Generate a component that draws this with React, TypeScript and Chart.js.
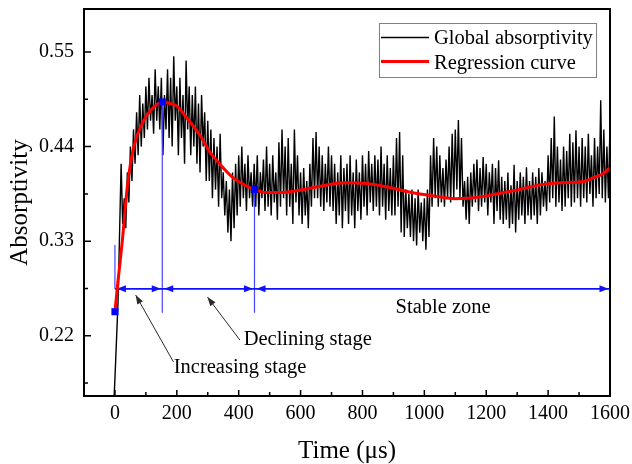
import React, { useEffect, useRef } from 'react';
import { Chart, registerables } from 'chart.js';

Chart.register(...registerables);

// ---------------- data ----------------
const sampleStart = -5; // μs, time of first sample
const sampleStep = 5; // μs between samples
const absorptivity = [
  0.13,
  0.17, 0.215, 0.26, 0.34, 0.42, 0.35, 0.38, 0.345, 0.41, 0.375,
  0.44, 0.40, 0.46, 0.42, 0.48, 0.43, 0.50, 0.44, 0.49, 0.45,
  0.51, 0.46, 0.52, 0.47, 0.50, 0.455, 0.53, 0.47, 0.51, 0.46,
  0.52, 0.43, 0.50, 0.46, 0.53, 0.45, 0.52, 0.44, 0.545, 0.47,
  0.51, 0.43, 0.52, 0.45, 0.50, 0.42, 0.54, 0.46, 0.51, 0.43,
  0.50, 0.44, 0.51, 0.42, 0.49, 0.41, 0.50, 0.44, 0.48, 0.40,
  0.47, 0.40, 0.46, 0.38, 0.45, 0.39, 0.44, 0.37, 0.455, 0.38,
  0.41, 0.36, 0.40, 0.34, 0.39, 0.33, 0.41, 0.345, 0.42, 0.36,
  0.43, 0.37, 0.44, 0.38, 0.42, 0.365, 0.43, 0.38, 0.41, 0.37,
  0.42, 0.37, 0.43, 0.36, 0.41, 0.38, 0.425, 0.365, 0.44, 0.37,
  0.42, 0.36, 0.43, 0.375, 0.41, 0.355, 0.445, 0.37, 0.46, 0.38,
  0.44, 0.36, 0.45, 0.37, 0.42, 0.35, 0.46, 0.375, 0.43, 0.36,
  0.41, 0.35, 0.415, 0.36, 0.40, 0.345, 0.42, 0.37, 0.45, 0.38,
  0.457, 0.38, 0.44, 0.37, 0.43, 0.365, 0.42, 0.375, 0.44, 0.37,
  0.43, 0.365, 0.42, 0.35, 0.41, 0.36, 0.43, 0.345, 0.415, 0.365,
  0.42, 0.35, 0.43, 0.36, 0.41, 0.345, 0.425, 0.365, 0.41, 0.355,
  0.43, 0.37, 0.42, 0.36, 0.435, 0.375, 0.42, 0.365, 0.43, 0.37,
  0.425, 0.36, 0.44, 0.37, 0.42, 0.355, 0.43, 0.365, 0.415, 0.36,
  0.43, 0.36, 0.45, 0.37, 0.457, 0.34, 0.43, 0.335, 0.39, 0.345,
  0.385, 0.335, 0.39, 0.33, 0.38, 0.325, 0.39, 0.34, 0.375, 0.33,
  0.38, 0.32, 0.39, 0.335, 0.43, 0.37, 0.45, 0.38, 0.44, 0.37,
  0.43, 0.375, 0.415, 0.37, 0.425, 0.38, 0.44, 0.375, 0.455, 0.38,
  0.46, 0.39, 0.471, 0.38, 0.45, 0.37, 0.40, 0.355, 0.405, 0.35,
  0.41, 0.37, 0.42, 0.375, 0.425, 0.365, 0.415, 0.37, 0.428, 0.375,
  0.42, 0.36, 0.41, 0.375, 0.42, 0.35, 0.415, 0.365, 0.424, 0.355,
  0.405, 0.35, 0.40, 0.355, 0.41, 0.345, 0.395, 0.35, 0.419, 0.34,
  0.40, 0.355, 0.41, 0.36, 0.405, 0.35, 0.416, 0.36, 0.40, 0.355,
  0.41, 0.36, 0.405, 0.35, 0.415, 0.36, 0.41, 0.37, 0.40, 0.365,
  0.43, 0.375, 0.45, 0.38, 0.475, 0.37, 0.44, 0.375, 0.425, 0.365,
  0.44, 0.37, 0.435, 0.38, 0.455, 0.37, 0.445, 0.375, 0.459, 0.38,
  0.44, 0.37, 0.45, 0.38, 0.44, 0.375, 0.455, 0.385, 0.43, 0.37,
  0.45, 0.38, 0.44, 0.385, 0.494, 0.38, 0.46, 0.375, 0.44, 0.38,
  0.467,
];

const regressionTime = [0, 10, 24, 40, 61, 94, 120, 153, 180, 201, 235, 277, 310, 341, 375, 406, 451, 492, 535, 600, 664, 740, 815, 880, 955, 1050, 1095, 1140, 1205, 1280, 1375, 1440, 1515, 1545, 1580, 1600];
const regressionValue = [0.248, 0.284, 0.331, 0.3935, 0.44, 0.471, 0.484, 0.492, 0.49, 0.4867, 0.472, 0.452, 0.432, 0.419, 0.406, 0.398, 0.39, 0.3866, 0.3866, 0.3895, 0.394, 0.398, 0.397, 0.393, 0.387, 0.3816, 0.3795, 0.38, 0.383, 0.388, 0.3955, 0.398, 0.3995, 0.4036, 0.409, 0.416];

// stage boundaries (μs) and the marked points on the regression curve
const stageTime = [0, 153, 451];
const stageValue = [0.248, 0.492, 0.39];
const stageEnd = 1600;
const arrowLevel = 0.2746;
const firstMarkTop = 0.3256;
const markBottom = 0.2468;

const xTicks = [0, 200, 400, 600, 800, 1000, 1200, 1400, 1600];
const xMinorTicks = [100, 300, 500, 700, 900, 1100, 1300, 1500];
const yTicks = [0.22, 0.33, 0.44, 0.55];
const yMinorTicks = [0.165, 0.275, 0.385, 0.495];

const stageLabels = [
  { text: 'Increasing stage', x: 190, y: 0.177 },
  { text: 'Declining stage', x: 416, y: 0.209 },
  { text: 'Stable zone', x: 907, y: 0.2468 },
];
const pointerArrows = [
  { fromX: 189, fromY: 0.1897, toX: 67, toY: 0.2674 },
  { fromX: 404, fromY: 0.215, toX: 299, toY: 0.265 },
];

const seriesNames = ['Global absorptivity', 'Regression curve'];

// ---------------- drawing helpers ----------------
const FONT = '"Liberation Serif", "Times New Roman", serif';

function arrowHead(ctx: CanvasRenderingContext2D, tx: number, ty: number, dx: number, dy: number, len: number, half: number) {
  const n = Math.hypot(dx, dy);
  const ux = dx / n, uy = dy / n;
  const bx = tx - ux * len, by = ty - uy * len;
  ctx.beginPath();
  ctx.moveTo(tx, ty);
  ctx.lineTo(bx - uy * half, by + ux * half);
  ctx.lineTo(bx + uy * half, by - ux * half);
  ctx.closePath();
  ctx.fill();
}

const stagePlugin = {
  id: 'stageMarks',
  afterDatasetDraw(chart: any, args: any) {
    if (args.meta.order !== 3) return;
    const ctx = chart.ctx as CanvasRenderingContext2D;
    const xs = chart.scales.x, ys = chart.scales.y;
    const X = (v: number) => xs.getPixelForValue(v);
    const Y = (v: number) => ys.getPixelForValue(v);
    ctx.save();
    // verticals
    ctx.strokeStyle = '#4545ff';
    ctx.lineWidth = 1.2;
    stageTime.forEach((t, i) => {
      const top = i === 0 ? firstMarkTop : stageValue[i];
      const bottom = i === 0 ? arrowLevel : markBottom;
      ctx.beginPath();
      ctx.moveTo(X(t), Y(top));
      ctx.lineTo(X(t), Y(bottom));
      ctx.stroke();
    });
    // horizontal double arrows
    ctx.strokeStyle = '#1010ff';
    ctx.fillStyle = '#1010ff';
    ctx.lineWidth = 1.6;
    const yl = Y(arrowLevel);
    ctx.beginPath();
    ctx.moveTo(X(stageTime[0]), yl);
    ctx.lineTo(X(stageEnd), yl);
    ctx.stroke();
    const bounds = [...stageTime, stageEnd];
    for (let i = 0; i < bounds.length - 1; i++) {
      const a = X(bounds[i]), b = X(bounds[i + 1]);
      arrowHead(ctx, a + 2, yl, -1, 0, 9, 3.5);
      arrowHead(ctx, b - 1.5, yl, 1, 0, 9, 3.5);
    }
    ctx.restore();
  },
  afterDraw(chart: any) {
    const ctx = chart.ctx as CanvasRenderingContext2D;
    const xs = chart.scales.x, ys = chart.scales.y;
    const X = (v: number) => xs.getPixelForValue(v);
    const Y = (v: number) => ys.getPixelForValue(v);
    const { left, right, top, bottom } = chart.chartArea;
    ctx.save();
    // pointer arrows
    ctx.strokeStyle = '#2a2a2a';
    ctx.fillStyle = '#2a2a2a';
    ctx.lineWidth = 1;
    pointerArrows.forEach((a) => {
      const x0 = X(a.fromX), y0 = Y(a.fromY), x1 = X(a.toX), y1 = Y(a.toY);
      ctx.beginPath();
      ctx.moveTo(x0, y0);
      ctx.lineTo(x1, y1);
      ctx.stroke();
      arrowHead(ctx, x1, y1, x1 - x0, y1 - y0, 9, 3.2);
    });
    // stage labels
    ctx.fillStyle = '#000';
    ctx.font = `20.5px ${FONT}`;
    ctx.textAlign = 'left';
    ctx.textBaseline = 'alphabetic';
    stageLabels.forEach((l) => ctx.fillText(l.text, X(l.x), Y(l.y)));

    // legend
    const lx = right - 231, ly = top + 14;
    ctx.fillStyle = '#fff';
    ctx.fillRect(lx, ly, 217, 54);
    ctx.strokeStyle = '#808080';
    ctx.lineWidth = 1;
    ctx.strokeRect(lx + 0.5, ly + 0.5, 217, 54);
    ctx.lineWidth = 1.6;
    ctx.strokeStyle = '#000';
    ctx.beginPath();
    ctx.moveTo(lx + 2, ly + 14.5);
    ctx.lineTo(lx + 50, ly + 14.5);
    ctx.stroke();
    ctx.lineWidth = 3;
    ctx.strokeStyle = '#ff0000';
    ctx.beginPath();
    ctx.moveTo(lx + 2, ly + 38.5);
    ctx.lineTo(lx + 50, ly + 38.5);
    ctx.stroke();
    ctx.fillStyle = '#000';
    ctx.font = `20.5px ${FONT}`;
    ctx.fillText(seriesNames[0], lx + 55, ly + 21);
    ctx.fillText(seriesNames[1], lx + 55, ly + 46);

    // frame
    ctx.strokeStyle = '#000';
    ctx.lineWidth = 2;
    ctx.strokeRect(left, top, right - left, bottom - top);
    // inward ticks
    ctx.lineWidth = 1.5;
    ctx.beginPath();
    xTicks.forEach((v) => { const p = X(v); ctx.moveTo(p, bottom); ctx.lineTo(p, bottom - 6); });
    xMinorTicks.forEach((v) => { const p = X(v); ctx.moveTo(p, bottom); ctx.lineTo(p, bottom - 4); });
    yTicks.forEach((v) => { const p = Y(v); ctx.moveTo(left, p); ctx.lineTo(left + 7, p); });
    yMinorTicks.forEach((v) => { const p = Y(v); ctx.moveTo(left, p); ctx.lineTo(left + 4, p); });
    ctx.stroke();
    ctx.restore();
  },
};

export default function App() {
  const ref = useRef<HTMLCanvasElement | null>(null);

  useEffect(() => {
    if (!ref.current) return;
    const blackData = absorptivity.map((v, i) => ({ x: sampleStart + i * sampleStep, y: v }));
    const redData = regressionTime.map((t, i) => ({ x: t, y: regressionValue[i] }));
    const markData = stageTime.map((t, i) => ({ x: t, y: stageValue[i] }));

    const chart = new Chart(ref.current, {
      type: 'line',
      data: {
        datasets: [
          {
            label: seriesNames[0],
            data: blackData,
            borderColor: '#000',
            borderWidth: 1.4,
            pointRadius: 0,
            tension: 0,
            order: 3,
          },
          {
            label: seriesNames[1],
            data: redData,
            borderColor: '#ff0000',
            borderWidth: 3,
            pointRadius: 0,
            cubicInterpolationMode: 'monotone',
            order: 2,
          },
          {
            label: 'stage marks',
            data: markData,
            showLine: false,
            pointStyle: 'rect',
            pointRadius: 5,
            backgroundColor: '#0000ff',
            borderColor: '#0000ff',
            borderWidth: 0,
            order: 1,
          },
        ],
      },
      options: {
        responsive: false,
        animation: false,
        events: [],
        layout: { padding: { left: 0, top: 9, right: 22, bottom: 0 } },
        plugins: { legend: { display: false }, tooltip: { enabled: false } },
        scales: {
          x: {
            type: 'linear',
            min: -100,
            max: 1600,
            afterBuildTicks: (s: any) => { s.ticks = xTicks.map((v) => ({ value: v })); },
            afterFit: (s: any) => { s.height = 68; s.paddingLeft = 0; s.paddingRight = 0; },
            grid: { display: false, drawTicks: false },
            border: { display: false },
            ticks: {
              padding: 6,
              color: '#000',
              maxRotation: 0,
              autoSkip: false,
              font: { family: FONT, size: 20 },
              callback: (v: any) => String(v),
            },
            title: {
              display: true,
              text: 'Time (μs)',
              color: '#000',
              font: { family: FONT, size: 25, lineHeight: 1 },
              padding: { top: 0, bottom: 0 },
            },
          },
          y: {
            type: 'linear',
            min: 0.15,
            max: 0.6,
            afterBuildTicks: (s: any) => { s.ticks = yTicks.map((v) => ({ value: v })); },
            afterFit: (s: any) => { s.width = 84; s.paddingTop = 0; s.paddingBottom = 0; },
            grid: { display: false, drawTicks: false },
            border: { display: false },
            ticks: {
              padding: 10,
              color: '#000',
              autoSkip: false,
              font: { family: FONT, size: 20 },
              callback: (v: any) => Number(v).toFixed(2),
            },
            title: {
              display: true,
              text: 'Absorptivity',
              color: '#000',
              font: { family: FONT, size: 25, lineHeight: 1 },
              padding: { top: 8, bottom: 0 },
            },
          },
        },
      },
      plugins: [stagePlugin],
    } as any);
    return () => chart.destroy();
  }, []);

  return (
    <div style={{ position: 'fixed', left: 0, top: 0, width: 632, height: 464, background: '#fff' }}>
      <canvas ref={ref} width={632} height={464} style={{ display: 'block' }} />
    </div>
  );
}
